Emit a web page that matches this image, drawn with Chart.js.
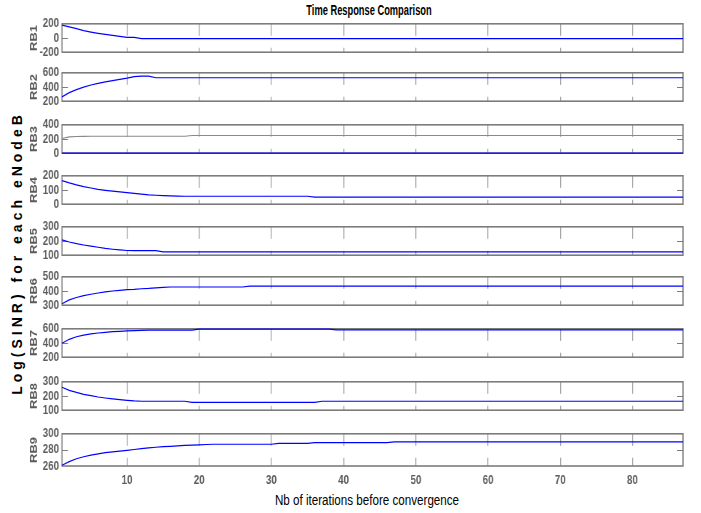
<!DOCTYPE html>
<html>
<head>
<meta charset="utf-8">
<title>Time Response Comparison</title>
<script src="https://cdn.jsdelivr.net/npm/chart.js@4.4.1/dist/chart.umd.min.js"></script>
<style>
   html, body { margin: 0; padding: 0; background: #fff; }
   #page { position: relative; width: 701px; height: 513px; overflow: hidden; background: #fff; }
   #page canvas { position: absolute; left: 0; }
   .lbl { position: absolute; white-space: nowrap; color: #000; font-family: 'Liberation Sans', Arial, sans-serif; }
   #title { left: 369px; top: 9px; font-size: 15px; font-weight: bold; transform: translate(-50%, -50%) scaleX(0.62); }
   #xlabel { left: 367px; top: 500px; font-size: 14px; transform: translate(-50%, -50%) scaleX(0.83); }
   #ylabel { left: 17px; top: 253px; font-size: 14px; font-weight: bold; letter-spacing: 4px; transform: translate(-50%, -50%) rotate(-90deg); }
</style>
</head>
<body>
<div id="page">
   <div class="lbl" id="title">Time Response Comparison</div>
   <div class="lbl" id="xlabel">Nb of iterations before convergence</div>
   <div class="lbl" id="ylabel">Log(SINR) for each eNodeB</div>
</div>
<script>
// iterations (x axis)
var iterations = [1,2,3,4,5,6,7,8,9,10,
   11,12,13,14,15,16,17,18,19,20,
   21,22,23,24,25,26,27,28,29,30,
   31,32,33,34,35,36,37,38,39,40,
   41,42,43,44,45,46,47,48,49,50,
   51,52,53,54,55,56,57,58,59,60,
   61,62,63,64,65,66,67,68,69,70,
   71,72,73,74,75,76,77,78,79,80,
   81,82,83,84,85,86,87];
var xTicks = [10, 20, 30, 40, 50, 60, 70, 80];

var rbNames = ['RB1', 'RB2', 'RB3', 'RB4', 'RB5', 'RB6', 'RB7', 'RB8', 'RB9'];
// min, middle, max tick of every subplot
var rbTicks = [[-200, 0, 200], [200, 400, 600], [0, 200, 400], [0, 100, 200], [100, 200, 300],
   [300, 400, 500], [200, 400, 600], [100, 200, 300], [260, 280, 300]];

var rb1 = [181,156,131,105,84,66,50,36,22,10,
   10,-10,-10,-10,-10,-10,-10,-10,-10,-10,
   -10,-10,-10,-10,-10,-10,-10,-10,-10,-10,
   -10,-10,-10,-10,-10,-10,-10,-10,-10,-10,
   -10,-10,-10,-10,-10,-10,-10,-10,-10,-10,
   -10,-10,-10,-10,-10,-10,-10,-10,-10,-10,
   -10,-10,-10,-10,-10,-10,-10,-10,-10,-10,
   -10,-10,-10,-10,-10,-10,-10,-10,-10,-10,
   -10,-10,-10,-10,-10,-10,-10];
var rb2 = [261,320,364,398,428,452,472,490,508,524,
   545,554,554,530,530,530,530,530,530,530,
   530,530,530,530,530,530,530,530,530,530,
   530,530,530,530,530,530,530,530,530,530,
   530,530,530,530,530,530,530,530,530,530,
   530,530,530,530,530,530,530,530,530,530,
   530,530,530,530,530,530,530,530,530,530,
   530,530,530,530,530,530,530,530,530,530,
   530,530,530,530,530,530,530];
var rb3 = [0,0,0,0,0,0,0,0,0,0,
   0,0,0,0,0,0,0,0,0,0,
   0,0,0,0,0,0,0,0,0,0,
   0,0,0,0,0,0,0,0,0,0,
   0,0,0,0,0,0,0,0,0,0,
   0,0,0,0,0,0,0,0,0,0,
   0,0,0,0,0,0,0,0,0,0,
   0,0,0,0,0,0,0,0,0,0,
   0,0,0,0,0,0,0];
// grey trace inside RB3
var rb3Ref = [208,230,235,237,238,238,238,238,238,238,
   238,238,238,238,238,238,238,238,250,250,
   250,250,250,250,250,250,250,250,250,250,
   250,250,250,250,250,250,250,250,250,250,
   250,250,250,250,250,250,250,250,250,250,
   250,250,250,250,250,250,250,250,250,250,
   250,250,250,250,250,250,250,250,250,250,
   250,250,250,250,250,250,250,250,250,250,
   250,250,250,250,250,250,250];
var rb4 = [166,150,136,124,114,105,98,92,87,82,
   76,71,66,63,61,59,57,56,56,56,
   56,56,56,56,56,56,56,56,56,56,
   56,56,56,56,56,50,50,50,50,50,
   50,50,50,50,50,50,50,50,50,50,
   50,50,50,50,50,50,50,50,50,50,
   50,50,50,50,50,50,50,50,50,50,
   50,50,50,50,50,50,50,50,50,50,
   50,50,50,50,50,50,50];
var rb5 = [208,193,181,172,164,156,148,142,137,133,
   132,132,132,132,124,124,124,124,124,124,
   124,124,124,124,124,124,124,124,124,124,
   124,124,124,124,124,124,124,124,124,124,
   124,124,124,124,124,124,124,124,124,124,
   124,124,124,124,124,124,124,124,124,124,
   124,124,124,124,124,124,124,124,124,124,
   124,124,124,124,124,124,124,124,124,124,
   124,124,124,124,124,124,124];
var rb6 = [310,337,354,367,377,386,394,400,405,410,
   412,416,418,422,426,428,428,428,428,428,
   428,428,428,428,428,428,435,435,435,435,
   435,435,435,435,435,435,435,435,435,435,
   435,435,435,435,435,435,435,435,435,435,
   435,435,435,435,435,435,435,435,435,435,
   435,435,435,435,435,435,435,435,435,435,
   435,435,435,435,435,435,435,435,435,435,
   435,435,435,435,435,435,435];
var rb7 = [396,452,488,512,528,541,551,559,565,570,
   575,579,581,581,581,581,581,581,581,595,
   595,595,595,595,595,595,595,595,595,595,
   595,595,595,595,595,595,595,595,586,586,
   586,586,586,586,586,586,586,586,586,586,
   586,586,586,586,586,586,586,586,586,586,
   586,586,586,586,586,586,586,586,586,586,
   586,586,586,586,586,586,586,586,586,586,
   586,586,586,586,586,586,586];
var rb8 = [262,240,225,212,202,193,186,180,174,169,
   165,163,163,163,163,163,163,163,155,155,
   155,155,155,155,155,155,155,155,155,155,
   155,155,155,155,155,155,163,163,163,163,
   163,163,163,163,163,163,163,163,163,163,
   163,163,163,163,163,163,163,163,163,163,
   163,163,163,163,163,163,163,163,163,163,
   163,163,163,163,163,163,163,163,163,163,
   163,163,163,163,163,163,163];
var rb9 = [261,265.5,269,271.5,273.5,275,276.5,277.5,278.5,279.4,
   280.5,281.5,282.5,283.3,284,284.4,285,285.5,286,286.3,
   286.7,287,287,287,287,287,287,287,287,287,
   288,288,288,288,288,289,289,289,289,289,
   289,289,289,289,289,289,290,290,290,290,
   290,290,290,290,290,290,290,290,290,290,
   290,290,290,290,290,290,290,290,290,290,
   290,290,290,290,290,290,290,290,290,290,
   290,290,290,290,290,290,290];

var series = [rb1, rb2, rb3, rb4, rb5, rb6, rb7, rb8, rb9];

// layout of the stacked axes (page pixels)
var boxTops = [20, 69, 121, 172, 223, 273, 325, 378, 430];
var boxH = 36;
var padTop = 8;
// the figure looks squeezed sideways, so every canvas is drawn wider and shrunk by css
var CW = 935;
var K = CW / 701;
var FONT = "'Liberation Sans', Arial, sans-serif";
var tickColor = '#5a5a5a';

// box round the plot + the small inner tick for the middle y value
var framePlugin = {
   id: 'frame',
   beforeDatasetsDraw: function (chart) {
      var a = chart.chartArea, ctx = chart.ctx, y = chart.scales.y;
      ctx.save();
      ctx.strokeStyle = '#7c7c7c';
      ctx.lineWidth = 1.6;
      ctx.strokeRect(a.left, a.top, a.right - a.left, a.bottom - a.top);
      ctx.lineWidth = 1;
      y.ticks.forEach(function (t) {
         if (t.value <= y.min || t.value >= y.max) return;
         var py = Math.round(y.getPixelForValue(t.value)) + 0.5;
         ctx.beginPath();
         ctx.moveTo(a.left, py); ctx.lineTo(a.left + 6 * K, py);
         ctx.moveTo(a.right - 6 * K, py); ctx.lineTo(a.right, py);
         ctx.stroke();
      });
      ctx.restore();
   }
};

function drawSubplot(i) {
   var last = (i === series.length - 1);
   var h = last ? 75 : padTop + boxH + 8;
   // x tick labels: padding counted twice by chart.js + one line of 15.6px
   var padBottom = last ? h - padTop - boxH - 2 * 7 - 15.6 : 8;

   var cv = document.createElement('canvas');
   cv.width = CW;
   cv.height = h;
   cv.style.width = '701px';
   cv.style.height = h + 'px';
   cv.style.top = (boxTops[i] - padTop) + 'px';
   document.getElementById('page').appendChild(cv);

   var ticks = rbTicks[i];
   var datasets = [{
      data: series[i],
      borderColor: '#0000ff',
      borderWidth: 1.2,
      clip: false
   }];
   if (i === 2) {
      datasets.unshift({ data: rb3Ref, borderColor: '#8a8a8a', borderWidth: 1.1, clip: false });
   }

   new Chart(cv, {
      type: 'line',
      data: { labels: iterations, datasets: datasets },
      options: {
         responsive: false,
         devicePixelRatio: 1,
         animation: false,
         layout: { padding: { top: padTop, right: 18 * K, bottom: padBottom, left: 0 } },
         plugins: { legend: { display: false }, tooltip: { enabled: false } },
         elements: { point: { radius: 0 }, line: { tension: 0 } },
         scales: {
            x: {
               type: 'linear',
               min: 1,
               max: 87,
               afterBuildTicks: function (s) { s.ticks = xTicks.map(function (v) { return { value: v }; }); },
               grid: { color: '#a0a0a0', lineWidth: 1.3, drawTicks: false },
               border: { display: false, dash: [boxH / 3, boxH / 3] },
               ticks: {
                  display: last,
                  autoSkip: false,
                  padding: 7,
                  maxRotation: 0,
                  color: tickColor,
                  font: { family: FONT, size: 13, weight: 'bold' }
               }
            },
            y: {
               min: ticks[0],
               max: ticks[2],
               afterBuildTicks: function (s) { s.ticks = ticks.map(function (v) { return { value: v }; }); },
               afterFit: function (s) { s.width = 62 * K; },
               grid: { display: false, drawTicks: false },
               border: { display: false },
               ticks: {
                  autoSkip: false,
                  padding: 3 * K,
                  color: tickColor,
                  font: { family: FONT, size: 13, weight: 'bold' }
               },
               title: {
                  display: true,
                  text: rbNames[i],
                  color: tickColor,
                  font: { family: FONT, size: 13, weight: 'bold' },
                  padding: { top: 34 * K - 7.8, bottom: 0 }
               }
            }
         }
      },
      plugins: [framePlugin]
   });
}

for (var i = 0; i < series.length; i++) {
   drawSubplot(i);
}
</script>
</body>
</html>
